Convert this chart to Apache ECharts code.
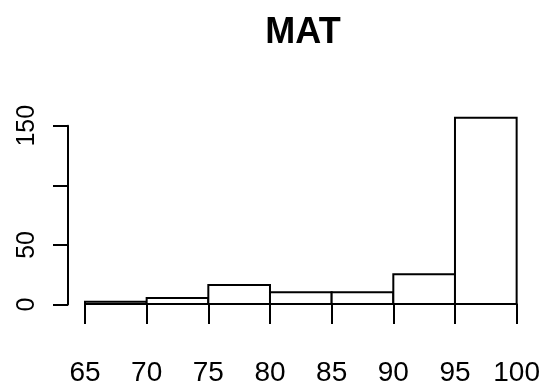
<!DOCTYPE html>
<html>
<head>
<meta charset="utf-8">
<script src="https://cdn.jsdelivr.net/npm/echarts@6/dist/echarts.min.js"></script>
<style>html,body{margin:0;padding:0;background:#fff}#c{width:543px;height:387px}</style>
</head>
<body>
<div id="c"></div>
<script>
const chartTitle = 'MAT';
const binStarts = [65, 70, 75, 80, 85, 90, 95];
const binEnds = [70, 75, 80, 85, 90, 95, 100];
const counts = [2, 5, 16, 10, 10, 25, 157];
const xTicks = [65, 70, 75, 80, 85, 90, 95, 100];
const yTicks = [0, 50, 100, 150];

const FONT = "'Liberation Sans Narrow', 'Arial Narrow', 'Liberation Sans', Arial, sans-serif";
const bins = binStarts.map((s, i) => [s, binEnds[i], counts[i]]);

const chart = echarts.init(document.getElementById('c'));
chart.setOption({
  animation: false,
  backgroundColor: '#fff',
  grid: [
    {left: 85, right: 22, top: 114.3, bottom: 82.5},
    {left: 68, right: 22, top: 125.7, bottom: 82.5}
  ],
  xAxis: [
    {
      type: 'value', gridIndex: 0, min: xTicks[0], max: xTicks[xTicks.length - 1], interval: 5,
      offset: 9,
      axisLine: {show: true, lineStyle: {color: '#000', width: 2}},
      axisTick: {show: true, length: 20, inside: false, lineStyle: {color: '#000', width: 2}},
      axisLabel: {show: true, margin: 46, fontSize: 28, color: '#000', fontFamily: FONT, verticalAlign: 'top'},
      splitLine: {show: false}
    },
    {type: 'value', gridIndex: 1, show: false, min: 0, max: 1}
  ],
  yAxis: [
    {type: 'value', gridIndex: 0, show: false, min: 0, max: 160},
    {
      type: 'value', gridIndex: 1, min: yTicks[0], max: yTicks[yTicks.length - 1], interval: 50,
      axisLine: {show: true, lineStyle: {color: '#000', width: 2}},
      axisTick: {show: true, length: 15, inside: false, lineStyle: {color: '#000', width: 2}},
      axisLabel: {
        show: true, rotate: 90, margin: 28, fontSize: 25, color: '#000', fontFamily: FONT,
        formatter: v => (v === 100 ? '' : String(v))
      },
      splitLine: {show: false}
    }
  ],
  graphic: [{
    type: 'text', x: 303, y: 33,
    style: {text: chartTitle, fontSize: 36, fontWeight: 'bold', fontFamily: FONT,
            fill: '#000', align: 'center', verticalAlign: 'middle'}
  }],
  series: [{
    type: 'custom',
    xAxisIndex: 0, yAxisIndex: 0,
    data: bins,
    renderItem: function (params, api) {
      const p0 = api.coord([api.value(0), api.value(2)]);
      const p1 = api.coord([api.value(1), 0]);
      return {
        type: 'rect',
        shape: {x: p0[0], y: p0[1], width: p1[0] - p0[0], height: p1[1] - p0[1]},
        style: {fill: '#fff', stroke: '#000', lineWidth: 2}
      };
    }
  }]
});
</script>
</body>
</html>
